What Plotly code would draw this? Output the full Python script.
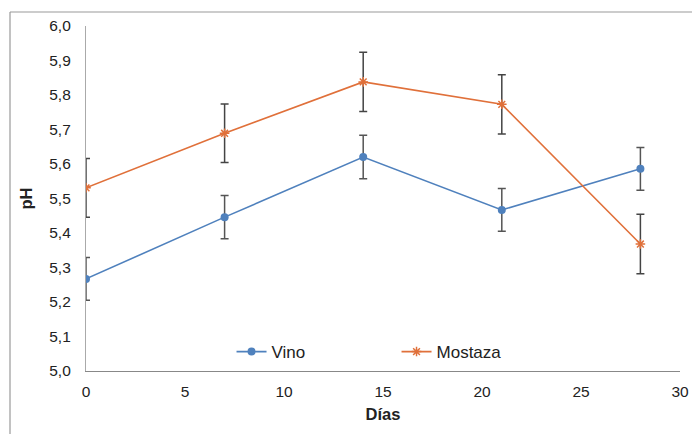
import plotly.graph_objects as go

dias = [0, 7, 14, 21, 28]
vino = [5.267, 5.446, 5.620, 5.467, 5.586]
vino_err = [0.062, 0.063, 0.063, 0.062, 0.062]
mostaza = [5.531, 5.689, 5.838, 5.773, 5.368]
mostaza_err = [0.085, 0.085, 0.086, 0.086, 0.086]
x_ticks = [0, 5, 10, 15, 20, 25, 30]
y_ticks = [5.0, 5.1, 5.2, 5.3, 5.4, 5.5, 5.6, 5.7, 5.8, 5.9, 6.0]

FONT = "Liberation Sans, Arial, sans-serif"

fig = go.Figure()
fig.add_trace(go.Scatter(
    x=dias, y=vino, name="Vino", mode="lines+markers",
    line=dict(color="#4F81BD", width=1.6),
    marker=dict(symbol="circle", size=8, color="#4F81BD"),
    error_y=dict(type="data", array=vino_err, visible=True,
                 color="#555555", thickness=1.5, width=4),
))
fig.add_trace(go.Scatter(
    x=dias, y=mostaza, name="Mostaza", mode="lines+markers",
    line=dict(color="#E0703A", width=1.6),
    marker=dict(symbol="asterisk-open", size=8, color="#E0703A",
                line=dict(color="#E0703A", width=1.5)),
    error_y=dict(type="data", array=mostaza_err, visible=True,
                 color="#444444", thickness=1.5, width=4),
))

fig.update_layout(
    width=692, height=434,
    margin=dict(l=86, r=12, t=26, b=63, autoexpand=False),
    paper_bgcolor="white", plot_bgcolor="white",
    separators=", ",
    font=dict(family=FONT, size=15, color="#222222"),
    showlegend=True,
    legend=dict(orientation="h", x=0.245, y=0.055, xanchor="left", yanchor="middle",
                bgcolor="rgba(0,0,0,0)", font=dict(size=17, family=FONT),
                entrywidth=120, itemwidth=30),
    xaxis=dict(range=[0, 30], tickvals=x_ticks, tickformat="d",
               showgrid=False, zeroline=False, showline=True, automargin=False,
               linecolor="#888888", linewidth=1.2, ticks="",
               ticklabelstandoff=6,
               title=dict(text="<b>Días</b>", font=dict(size=16.5, family=FONT), standoff=9),
               tickfont=dict(size=15.5)),
    yaxis=dict(range=[5.0, 6.0], tickvals=y_ticks, tickformat=".1f",
               showgrid=False, zeroline=False, showline=True, automargin=False,
               linecolor="#AAAAAA", linewidth=1.2, ticks="",
               ticklabelstandoff=11,
               title=dict(text="<b>pH</b>", font=dict(size=16.5, family=FONT), standoff=12),
               tickfont=dict(size=15.5)),
)

# outer chart frame (top and left edges visible)
fig.add_shape(type="line", xref="paper", yref="paper",
              x0=(10 - 86) / 594, x1=(700 - 86) / 594,
              y0=(371 - 12) / 345, y1=(371 - 12) / 345,
              line=dict(color="#999999", width=1.2))
fig.add_shape(type="line", xref="paper", yref="paper",
              x0=(10 - 86) / 594, x1=(10 - 86) / 594,
              y0=(371 - 12) / 345, y1=(371 - 440) / 345,
              line=dict(color="#999999", width=1.2))

fig.write_html(
    "out.html",
    config={"displayModeBar": False},
    post_script="document.body.style.margin='0';document.body.style.overflow='hidden';",
)
